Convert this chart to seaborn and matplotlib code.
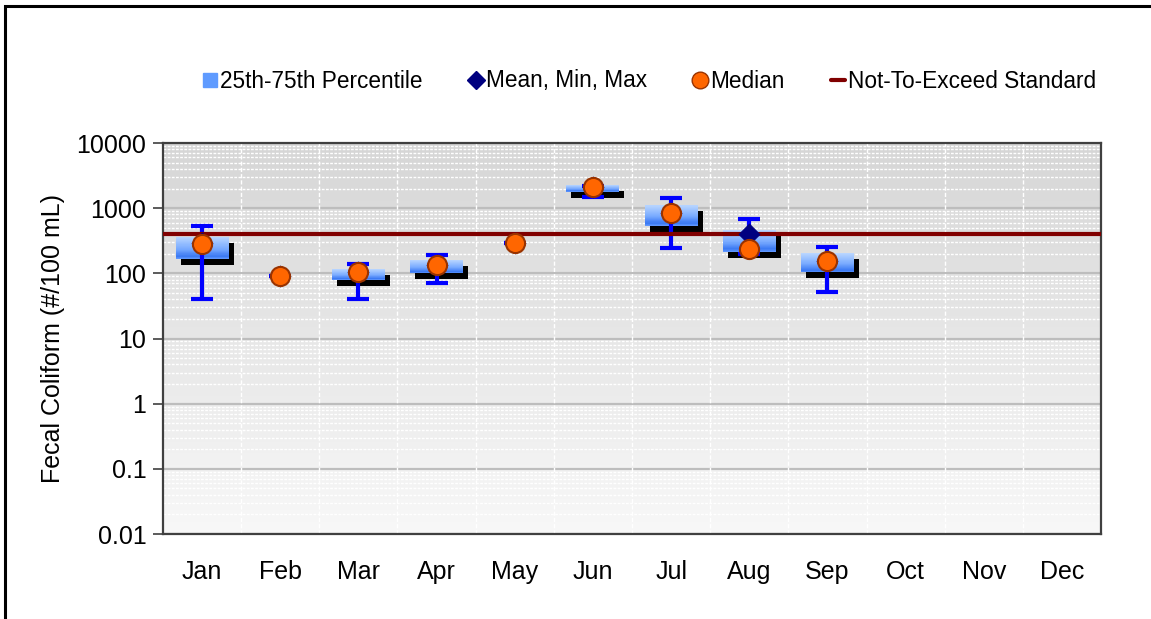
import numpy as np
import matplotlib
matplotlib.use("Agg")
import matplotlib.pyplot as plt
import matplotlib.transforms as mtransforms
from matplotlib.colors import LinearSegmentedColormap
from matplotlib.lines import Line2D
from matplotlib.patches import Rectangle
import seaborn as sns

# monthly fecal coliform summary (#/100 mL)
months = ["Jan", "Feb", "Mar", "Apr", "May", "Jun", "Jul", "Aug", "Sep", "Oct", "Nov", "Dec"]
p25 = [166, np.nan, 79, 100, np.nan, 1790, 540, 215, 103, np.nan, np.nan, np.nan]
p75 = [365, np.nan, 116, 161, np.nan, 2270, 1120, 463, 203, np.nan, np.nan, np.nan]
vmin = [40, 91, 40, 70, 296, 1470, 248, 200, 51, np.nan, np.nan, np.nan]
vmax = [533, 91, 138, 194, 296, 2200, 1420, 682, 258, np.nan, np.nan, np.nan]
mean = [290, 91, 103, 133, 296, 2090, 853, 398, 157, np.nan, np.nan, np.nan]
median = [283, 91, 103, 133, 296, 2090, 853, 234, 157, np.nan, np.nan, np.nan]
standard = 400

sns.set_style("white")
plt.rcParams["font.family"] = ["Liberation Sans", "DejaVu Sans"]
plt.rcParams["text.color"] = "black"
plt.rcParams["axes.labelcolor"] = "black"

fig = plt.figure(figsize=(11.51, 6.19), dpi=100)
ax = fig.add_axes([163 / 1151, 1 - 534 / 619, 938 / 1151, 391 / 619])

x = np.arange(len(months))

# plot area background gradient (grey top -> near white bottom)
grad = np.linspace(0, 1, 256).reshape(-1, 1)
bg = LinearSegmentedColormap.from_list("bg", ["#f8f8f8", "#d6d6d6"])
ax.imshow(grad, cmap=bg, aspect="auto", extent=[0, 1, 0, 1],
          transform=ax.transAxes, origin="lower", zorder=0)

ax.set_yscale("log")
ax.set_ylim(0.01, 10000)
ax.set_xlim(-0.5, 11.5)

# grid
ax.yaxis.grid(True, which="major", color="#bdbdbd", lw=1.6, zorder=0.5)
ax.yaxis.grid(True, which="minor", color="white", lw=1.0, ls=(0, (2, 1)), zorder=0.5)
for b in np.arange(0.5, 11.5, 1):
    ax.axvline(b, color="white", lw=1.0, ls=(0, (3, 1.5)), zorder=0.6)

# boxes with drop shadow and blue gradient
boxcm = LinearSegmentedColormap.from_list(
    "box", [(0, "#b9d6ff"), (0.55, "#78aaff"), (0.88, "#3a78f2"), (1, "#6299ff")])
w = 0.68
shadow_tr = mtransforms.offset_copy(ax.transData, fig=fig, x=5, y=-6, units="dots")
nstrip = 40
for i in x:
    lo, hi = p25[i], p75[i]
    if np.isnan(lo):
        continue
    ax.add_patch(Rectangle((i - w / 2, lo), w, hi - lo, facecolor="black",
                           edgecolor="none", transform=shadow_tr, zorder=1))
    edges = np.logspace(np.log10(lo), np.log10(hi), nstrip + 1)
    for k in range(nstrip):
        ax.add_patch(Rectangle((i - w / 2, edges[k]), w, edges[k + 1] - edges[k],
                               facecolor=boxcm(1 - (k + 0.5) / nstrip),
                               edgecolor="none", zorder=2))

# min/max whiskers
m = np.array(mean, dtype=float)
err = [m - np.array(vmin), np.array(vmax) - m]
ax.errorbar(x, m, yerr=err, fmt="none", ecolor="#0000ff", elinewidth=3,
            capsize=8, capthick=3, zorder=3)

ax.axhline(standard, color="#800000", lw=3, zorder=4)

sns.scatterplot(x=x, y=mean, marker="D", s=110, color="#000080",
                edgecolor="#000080", ax=ax, zorder=5, legend=False)
sns.scatterplot(x=x, y=median, marker="o", s=190, color="#ff6600",
                edgecolor="#993300", linewidth=1.5, ax=ax, zorder=6, legend=False)

# axes styling
ax.set_xticks(x)
ax.set_xticklabels(months, fontsize=18)
ax.set_xticks(np.arange(-0.5, 12, 1), minor=True)
ax.tick_params(axis="x", which="major", length=0, pad=19, labelcolor="black")
ax.tick_params(axis="x", which="minor", length=7, width=1.5, color="#404040", direction="out")
ax.set_yticks([0.01, 0.1, 1, 10, 100, 1000, 10000])
ax.set_yticklabels(["0.01", "0.1", "1", "10", "100", "1000", "10000"], fontsize=18)
ax.tick_params(axis="y", which="major", length=7, width=1.2, color="#404040",
               direction="out", left=True, pad=5, labelcolor="black")
ax.tick_params(axis="y", which="minor", length=0)
ax.set_ylabel("Fecal Coliform (#/100 mL)", fontsize=18, labelpad=8)
for s in ax.spines.values():
    s.set_visible(True)
    s.set_color("#404040")
    s.set_linewidth(1.6)

# legend
handles = [
    Line2D([], [], marker="s", ls="none", markersize=10, markerfacecolor="#5f9bff",
           markeredgecolor="#5f9bff"),
    Line2D([], [], marker="D", ls="none", markersize=9, color="#000080"),
    Line2D([], [], marker="o", ls="none", markersize=12, markerfacecolor="#ff6600",
           markeredgecolor="#993300"),
    Line2D([], [], color="#800000", lw=3),
]
labels = ["25th-75th Percentile", "Mean, Min, Max", "Median", "Not-To-Exceed Standard"]
fig.legend(handles, labels, loc="center left", bbox_to_anchor=(203 / 1151, 1 - 81 / 619),
           ncol=4, frameon=False, fontsize=16.3, handlelength=0.6, handletextpad=0.15,
           columnspacing=2.05, borderaxespad=0, borderpad=0)

# chart area border
fig.add_artist(Rectangle((5 / 1151, -0.1), 2, 1.1 - 6 / 619, fill=False,
                         edgecolor="black", lw=2.2, transform=fig.transFigure))

fig.savefig("out.png", dpi=100)
